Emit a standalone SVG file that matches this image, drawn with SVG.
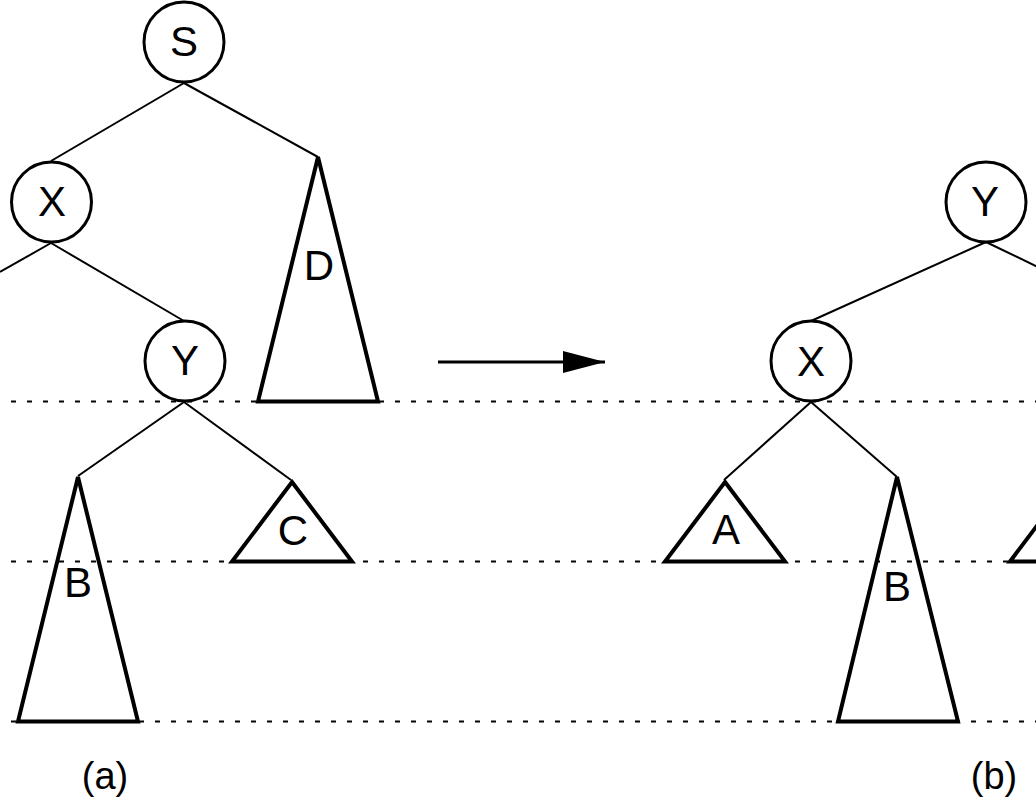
<svg xmlns="http://www.w3.org/2000/svg" width="1036" height="806" viewBox="0 0 1036 806">
<style>
.node{fill:#fff;stroke:#000;stroke-width:3}
.tri{fill:none;stroke:#000;stroke-width:4;stroke-linejoin:miter}
.edge{fill:none;stroke:#000;stroke-width:2}
.dash{fill:none;stroke:#000;stroke-width:2;stroke-dasharray:5 11}
.lbl{font-family:"Liberation Sans",Arial,sans-serif;font-size:42px;text-anchor:middle;fill:#000}
.cap{font-family:"Liberation Sans",Arial,sans-serif;font-size:38px;text-anchor:middle;fill:#000}
</style>
<defs>
<marker id="ah" markerWidth="14" markerHeight="8" refX="14" refY="4" orient="auto" markerUnits="userSpaceOnUse" viewBox="0 0 14 8">
<path d="M0,0 L14,4 L0,8 Z" fill="#000"/>
</marker>
</defs>
<g id="levels">
<line class="dash" x1="11" y1="401.5" x2="1036" y2="401.5"/>
<line class="dash" x1="11" y1="561.5" x2="1036" y2="561.5"/>
<line class="dash" x1="11" y1="721.5" x2="1036" y2="721.5"/>
</g>
<g id="connectors">
<line class="edge" x1="184" y1="83" x2="51" y2="161"/>
<line class="edge" x1="184" y1="83" x2="318" y2="157"/>
<line class="edge" x1="51" y1="243" x2="0" y2="272"/>
<line class="edge" x1="51" y1="243" x2="184" y2="321"/>
<line class="edge" x1="184" y1="402" x2="78" y2="476"/>
<line class="edge" x1="184" y1="402" x2="291" y2="480"/>
<line class="edge" x1="986" y1="242" x2="811" y2="321"/>
<line class="edge" x1="986" y1="242" x2="1040" y2="268"/>
<line class="edge" x1="811" y1="402" x2="724" y2="480"/>
<line class="edge" x1="811" y1="402" x2="897" y2="477"/>
<line x1="438" y1="362" x2="605" y2="362" stroke="#000" stroke-width="3"/>
<path d="M563,351 L605,362 L563,373 Z" fill="#000"/>
</g>
<g id="node-S"><circle class="node" cx="184" cy="42" r="40"/><text class="lbl" x="184" y="56">S</text></g>
<g id="node-Xa"><circle class="node" cx="51.5" cy="202" r="40"/><text class="lbl" x="52" y="216">X</text></g>
<g id="node-Ya"><circle class="node" cx="185" cy="361" r="40"/><text class="lbl" x="185" y="375">Y</text></g>
<g id="tree-D"><path class="tri" d="M318,157 L378,401.5 L258,401.5 Z"/><text class="lbl" x="319" y="280">D</text></g>
<g id="tree-Ba"><path class="tri" d="M78,477 L138,721.5 L18,721.5 Z"/><text class="lbl" x="78" y="597">B</text></g>
<g id="tree-Ca"><path class="tri" d="M292,482 L352,561.5 L232,561.5 Z"/><text class="lbl" x="293" y="545">C</text></g>
<g id="label-a"><text class="cap" x="105" y="789">(a)</text></g>
<g id="node-Yb"><circle class="node" cx="986" cy="202" r="40"/><text class="lbl" x="985" y="216">Y</text></g>
<g id="node-Xb"><circle class="node" cx="811" cy="361" r="40"/><text class="lbl" x="811" y="376">X</text></g>
<g id="tree-Ab"><path class="tri" d="M725,482 L785,561.5 L665,561.5 Z"/><text class="lbl" x="726" y="544">A</text></g>
<g id="tree-Bb"><path class="tri" d="M897,477 L958,721.5 L838,721.5 Z"/><text class="lbl" x="897" y="601">B</text></g>
<g id="tree-Cb"><path class="tri" d="M1070,482 L1130,561.5 L1010,561.5 Z"/></g>
<g id="label-b"><text class="cap" x="994" y="789">(b)</text></g>
</svg>
